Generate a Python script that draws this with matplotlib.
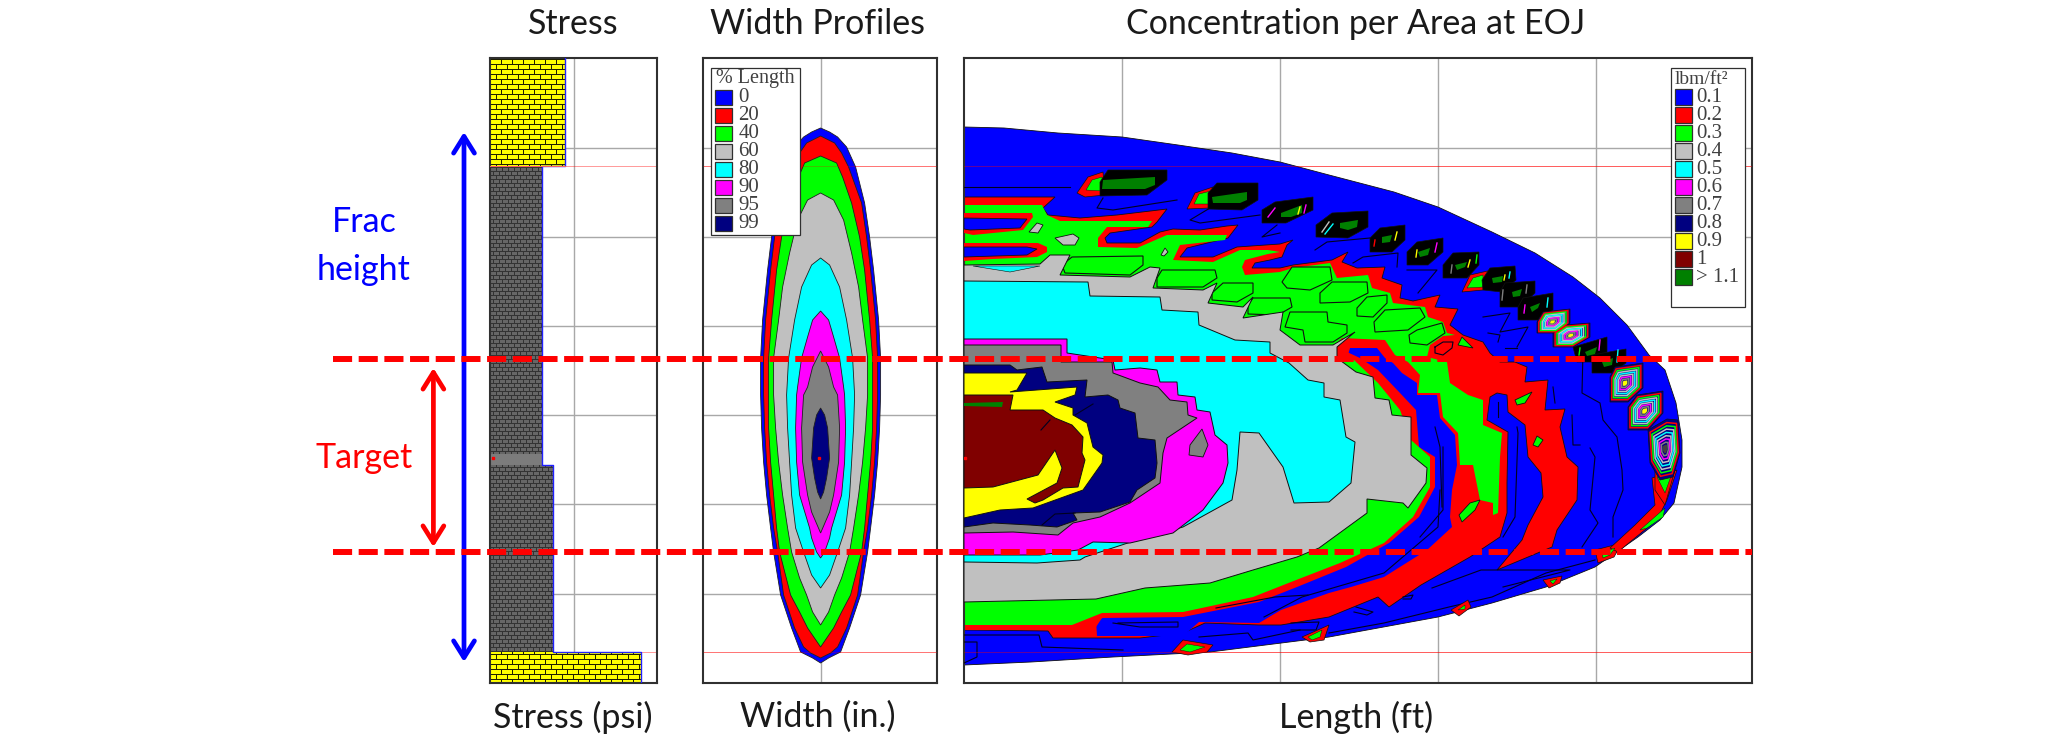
import numpy as np
import matplotlib
matplotlib.use("Agg")
import matplotlib.pyplot as plt
from matplotlib.patches import Polygon, Rectangle

BLUE, RED, GREEN = '#0000ff', '#ff0000', '#00ff00'
LGRAY, CYAN, MAGENTA = '#c0c0c0', '#00ffff', '#ff00ff'
GRAY, NAVY, YELLOW, MAROON, DGREEN = '#808080', '#000080', '#ffff00', '#800000', '#008000'

W, H = 2067, 739

# depth / length values below (no scale printed on the original)
depth_grid = [148, 237, 326, 415, 504, 594]
zone_lines = [166, 652]
target_top, target_bottom = 358.5, 552

# Stress panel
stress_layers = [  # stress, top, bottom, kind
    (565, 58, 166, 'y'),
    (542, 166, 454, 'g'),
    (542, 454, 465, 'p'),
    (552.5, 465, 652, 'g'),
    (641, 652, 683, 'y'),
]

# Width profile contours: depth, half width
width_pct = ['0', '20', '40', '60', '80', '90', '95', '99']
width_cols = [BLUE, RED, GREEN, LGRAY, CYAN, MAGENTA, GRAY, NAVY]
width_depth = [
    [128, 132, 137, 147, 167, 203, 237, 270, 320, 358, 395, 428, 462, 495, 528, 552, 595, 628, 652, 658, 663],
    [136, 143, 153, 167, 203, 237, 270, 320, 358, 395, 428, 462, 495, 528, 552, 595, 628, 647, 653, 658],
    [156, 163, 177, 203, 237, 270, 320, 358, 395, 428, 462, 495, 528, 552, 595, 612, 628, 647],
    [193, 200, 220, 253, 287, 320, 358, 395, 428, 462, 495, 528, 552, 578, 595, 612, 625],
    [258, 265, 287, 320, 358, 395, 428, 462, 495, 528, 552, 575, 588],
    [311, 320, 337, 358, 387, 395, 428, 462, 495, 528, 538, 552, 558],
    [351, 367, 387, 395, 428, 462, 495, 512, 533],
    [408, 415, 428, 458, 478, 492, 499],
]
width_half = [
    [0, 9, 17, 26, 35, 44, 49, 53, 58, 60, 60, 59, 57, 54, 50, 47, 40, 29, 20, 8, 0],
    [0, 14, 21, 28, 41, 46, 50, 55, 57, 57, 56, 54, 51, 47, 43, 37, 26, 17, 10, 0],
    [0, 16, 22, 31, 39, 44, 49, 52, 52, 52, 50, 47, 44, 41, 30, 21, 13, 0],
    [0, 13, 23, 31, 38, 42, 47, 47, 45, 42, 38, 33, 29, 21, 14, 8, 0],
    [0, 9, 19, 26, 32, 34, 33, 31, 29, 25, 17, 9, 0],
    [0, 8, 13, 19, 23, 24, 25, 24, 21, 11, 9, 4, 0],
    [0, 8, 13, 17, 19, 18, 13, 9, 0],
    [0, 4, 7, 9, 6, 3, 0],
]

# Concentration map contours (length, depth)
conc_outer = [(964, 127), (1004, 128), (1058, 133), (1122, 137), (1178, 145), (1232, 153), (1280, 162),
              (1329, 175), (1394, 192), (1438, 207), (1492, 232), (1535, 253), (1573, 277), (1600, 298),
              (1627, 325), (1649, 355), (1665, 370), (1676, 403), (1682, 440), (1682, 467), (1674, 503),
              (1660, 520), (1638, 537), (1595, 567), (1546, 587), (1492, 603), (1438, 617), (1329, 637),
              (1210, 652), (1113, 657), (1031, 662), (964, 665)]
conc_red = [(964, 197), (1055, 197), (1043, 208), (1048, 215), (1080, 218), (1117, 215), (1167, 209),
            (1157, 222), (1152, 227), (1110, 233), (1105, 238), (1107, 243), (1140, 243), (1160, 232),
            (1173, 229), (1200, 230), (1227, 226), (1238, 225), (1228, 238), (1187, 248), (1180, 257),
            (1213, 257), (1237, 247), (1280, 244), (1293, 240), (1287, 245), (1282, 257), (1270, 260),
            (1255, 263), (1252, 268), (1280, 268), (1293, 265), (1332, 260), (1348, 252), (1342, 262),
            (1357, 268), (1385, 267), (1382, 278), (1402, 285), (1400, 298), (1413, 301), (1440, 295),
            (1435, 307), (1458, 309), (1450, 325), (1463, 335), (1483, 342), (1490, 353), (1500, 362),
            (1515, 362), (1527, 367), (1525, 382), (1548, 380), (1545, 410), (1565, 409), (1560, 427),
            (1567, 457), (1578, 467), (1577, 500), (1557, 530), (1552, 547), (1497, 570), (1522, 540),
            (1528, 525), (1543, 497), (1541, 473), (1528, 457), (1525, 425), (1508, 412), (1507, 395),
            (1497, 393), (1490, 397), (1487, 420), (1508, 432), (1507, 483), (1507, 513), (1500, 537),
            (1470, 557), (1421, 585), (1389, 607), (1378, 597), (1329, 617), (1281, 625), (1259, 625),
            (1205, 623), (1183, 633), (1140, 638), (1053, 638), (1048, 631), (964, 630)]
conc_pocket = [(1350, 348), (1377, 348), (1385, 358), (1393, 363), (1402, 373), (1417, 383), (1417, 395),
               (1437, 395), (1440, 418), (1455, 435), (1457, 465), (1452, 490), (1450, 517), (1452, 527),
               (1427, 550), (1384, 577), (1351, 587), (1329, 593), (1281, 610), (1259, 623), (1199, 622),
               (1183, 636), (1097, 636), (1096, 620), (1200, 590), (1350, 500), (1380, 400), (1345, 365)]
conc_green = [(964, 205), (1042, 205), (1047, 215), (1060, 221), (1120, 221), (1152, 221), (1148, 227),
              (1107, 227), (1098, 238), (1098, 247), (1137, 248), (1167, 235), (1227, 235), (1225, 240),
              (1180, 245), (1173, 260), (1213, 262), (1240, 250), (1268, 250), (1280, 252), (1268, 254),
              (1245, 260), (1242, 267), (1245, 275), (1280, 272), (1293, 268), (1330, 263), (1337, 278),
              (1368, 275), (1372, 288), (1390, 293), (1393, 303), (1425, 307), (1428, 317), (1443, 322),
              (1447, 333), (1455, 335), (1443, 336), (1430, 345), (1427, 357), (1447, 362), (1450, 383),
              (1468, 395), (1483, 400), (1483, 425), (1502, 433), (1500, 457), (1498, 513), (1493, 515),
              (1493, 503), (1480, 500), (1473, 465), (1460, 465), (1458, 433), (1443, 417), (1440, 393),
              (1418, 393), (1420, 375), (1408, 362), (1395, 355), (1385, 340), (1342, 338), (1335, 345),
              (1337, 358), (964, 300)]
conc_red_band = [(1347, 352), (1360, 358), (1378, 370), (1400, 393), (1416, 410), (1419, 447), (1435, 457),
                 (1435, 487), (1419, 517), (1389, 543), (1346, 567), (1297, 587), (1259, 602), (1183, 617),
                 (1102, 618), (1094, 630), (964, 630), (964, 400)]
conc_green_band = [(1354, 360), (1378, 383), (1400, 410), (1411, 440), (1430, 457), (1430, 487), (1413, 517),
                   (1384, 543), (1340, 563), (1291, 582), (1253, 597), (1183, 612), (1102, 613), (1072, 625),
                   (964, 625), (964, 400)]
conc_04 = [(964, 265), (1040, 264), (1050, 255), (1070, 255), (1060, 275), (1130, 277), (1150, 267), (1160, 268),
           (1153, 288), (1203, 290), (1217, 283), (1208, 303), (1243, 307), (1253, 297), (1243, 318), (1283, 312),
           (1280, 330), (1300, 345), (1333, 345), (1355, 332), (1337, 347), (1337, 358), (1356, 372), (1373, 377),
           (1375, 398), (1389, 400), (1392, 415), (1411, 417), (1411, 455), (1427, 468), (1426, 483), (1408, 508),
           (1403, 503), (1367, 499), (1367, 513), (1319, 548), (1297, 557), (1253, 570), (1210, 583), (1145, 588),
           (1096, 599), (964, 602)]
conc_05 = [(964, 281), (1088, 282), (1090, 296), (1160, 297), (1162, 310), (1198, 312), (1199, 325), (1235, 340),
           (1270, 342), (1270, 353), (1289, 363), (1308, 380), (1324, 383), (1324, 397), (1340, 400), (1346, 437),
           (1355, 442), (1351, 483), (1329, 502), (1294, 503), (1283, 467), (1259, 433), (1240, 432), (1237, 470),
           (1232, 500), (1183, 527), (1137, 540), (1085, 557), (1080, 560), (1037, 563), (964, 562)]
conc_06 = [(964, 339), (1067, 339), (1067, 353), (1113, 360), (1115, 370), (1140, 368), (1157, 370), (1160, 382),
           (1177, 382), (1178, 395), (1195, 397), (1197, 410), (1210, 412), (1215, 435), (1227, 445), (1228, 463),
           (1223, 483), (1203, 510), (1173, 533), (1130, 543), (1093, 542), (1078, 550), (1040, 555), (964, 555)]
conc_07 = [(964, 345), (1061, 345), (1061, 362), (1112, 362), (1113, 373), (1140, 383), (1158, 387), (1170, 400),
           (1187, 402), (1188, 415), (1197, 418), (1167, 438), (1163, 453), (1160, 483), (1130, 503), (1100, 517),
           (1073, 523), (1058, 535), (1013, 532), (964, 533)]
conc_08 = [(964, 365), (1010, 365), (1017, 370), (1042, 367), (1047, 382), (1087, 380), (1085, 397), (1108, 395),
           (1118, 400), (1120, 408), (1135, 413), (1138, 438), (1155, 440), (1157, 463), (1155, 478), (1137, 490),
           (1130, 502), (1100, 512), (1073, 513), (1077, 520), (1057, 527), (1030, 525), (993, 523), (964, 527)]
conc_09 = [(964, 373), (1027, 373), (1017, 390), (1010, 392), (1077, 387), (1075, 395), (1055, 402), (1073, 408),
           (1073, 415), (1087, 423), (1093, 447), (1103, 455), (1102, 463), (1083, 490), (1033, 508), (1000, 510),
           (964, 518)]
conc_10 = [(964, 395), (1013, 395), (1010, 410), (1043, 410), (1055, 418), (1072, 425), (1083, 437), (1082, 453),
           (1085, 460), (1078, 487), (1063, 488), (1043, 500), (1035, 503), (1027, 499), (1057, 483), (1062, 468),
           (1055, 450), (1038, 475), (993, 487), (964, 488)]
conc_11 = [(964, 403), (1003, 402), (1002, 407), (964, 406)]

# pockets and islands painted over the main contours
pockets_red = [[(964, 213), (1032, 213), (1033, 217), (1023, 230), (973, 235), (964, 233)],
               [(964, 243), (1038, 243), (1047, 247), (1047, 252), (1037, 257), (993, 259), (964, 261)]]
pockets_blue = [[(964, 218), (1027, 219), (1020, 228), (970, 230), (964, 229)],
                [(964, 247), (1027, 247), (1037, 249), (1027, 255), (964, 257)]]
islands_gray = [[(1037, 223), (1043, 225), (1038, 233), (1029, 232)],
                [(1055, 238), (1073, 234), (1079, 238), (1075, 245), (1063, 245)],
                [(1165, 248), (1168, 252), (1164, 256), (1161, 255)],
                [(1202, 429), (1208, 445), (1203, 457), (1189, 455), (1190, 445)]]
islands_green = [[(1072, 257), (1143, 256), (1143, 265), (1130, 275), (1065, 273), (1062, 265)],
                 [(1162, 270), (1215, 270), (1217, 278), (1203, 287), (1157, 287), (1157, 278)],
                 [(1223, 283), (1253, 283), (1253, 293), (1237, 302), (1212, 300), (1212, 293)],
                 [(1253, 298), (1290, 298), (1292, 307), (1278, 315), (1248, 314), (1248, 305)],
                 [(1292, 267), (1330, 267), (1332, 280), (1310, 290), (1287, 288), (1282, 282)],
                 [(1332, 282), (1367, 282), (1368, 293), (1350, 302), (1320, 303), (1320, 293)],
                 [(1367, 297), (1387, 295), (1387, 303), (1373, 317), (1357, 316), (1357, 308)],
                 [(1385, 310), (1420, 308), (1425, 317), (1408, 330), (1375, 332), (1374, 322)],
                 [(1417, 330), (1442, 323), (1445, 333), (1427, 345), (1410, 343), (1409, 335)],
                 [(1290, 312), (1327, 312), (1328, 322), (1347, 325), (1347, 333), (1333, 342), (1305, 342),
                  (1303, 330), (1285, 327)]]
spots_green = [[(1462, 337), (1473, 348), (1458, 345)],
               [(1515, 400), (1532, 392), (1525, 403), (1517, 405)],
               [(1533, 445), (1537, 436), (1543, 440), (1538, 447)],
               [(1459, 515), (1470, 503), (1480, 500), (1475, 510), (1462, 522)]]
sliver_cyan = [(973, 266), (1040, 266), (1010, 272)]

# black proppant cells along the tip: outline, core
cells = [
    ([(1108, 170), (1167, 170), (1167, 180), (1147, 195), (1100, 196), (1100, 182)],
     [(1103, 180), (1155, 177), (1155, 185), (1145, 189), (1102, 189)]),
    ([(1217, 183), (1258, 183), (1258, 200), (1242, 210), (1208, 209), (1208, 193)],
     [(1212, 197), (1247, 192), (1247, 200), (1240, 203), (1213, 203)]),
    ([(1275, 202), (1313, 197), (1313, 210), (1286, 223), (1262, 223), (1262, 210)],
     [(1281, 213), (1302, 205), (1302, 213), (1291, 217), (1281, 217)]),
    ([(1332, 213), (1368, 211), (1368, 227), (1348, 238), (1316, 237), (1316, 225)],
     [(1340, 223), (1358, 220), (1357, 227), (1348, 230), (1340, 228)]),
    ([(1380, 228), (1405, 225), (1405, 240), (1392, 252), (1370, 252), (1370, 238)],
     [(1382, 237), (1392, 235), (1390, 242), (1382, 243)]),
    ([(1417, 242), (1443, 238), (1443, 252), (1428, 265), (1407, 265), (1407, 252)],
     [(1418, 252), (1430, 248), (1428, 255), (1420, 257)]),
    ([(1453, 253), (1479, 252), (1479, 265), (1467, 278), (1443, 278), (1443, 265)],
     [(1455, 265), (1467, 262), (1465, 267), (1457, 270)]),
    ([(1490, 268), (1515, 266), (1516, 280), (1502, 292), (1483, 290), (1482, 280)],
     [(1492, 278), (1503, 276), (1502, 282), (1493, 283)]),
    ([(1505, 283), (1535, 281), (1535, 293), (1520, 307), (1500, 307), (1500, 292)],
     [(1512, 292), (1522, 289), (1520, 296), (1513, 297)]),
    ([(1523, 298), (1553, 293), (1553, 310), (1538, 320), (1518, 320), (1518, 307)],
     [(1530, 307), (1540, 303), (1538, 308), (1532, 312)]),
    ([(1573, 347), (1607, 337), (1607, 353), (1595, 362), (1577, 362)],
     [(1585, 352), (1597, 347), (1595, 354), (1587, 356)]),
    ([(1592, 355), (1626, 349), (1626, 363), (1612, 373), (1592, 373)],
     [(1602, 362), (1613, 358), (1612, 365), (1604, 367)]),
]
# short coloured contour pieces inside the black cells
cell_ticks = [
    (YELLOW, [(1397, 232), (1395, 240)]), (RED, [(1375, 240), (1374, 246)]),
    (MAGENTA, [(1437, 243), (1435, 252)]), (YELLOW, [(1417, 250), (1416, 257)]),
    (YELLOW, [(1470, 260), (1468, 267)]), (GRAY, [(1452, 265), (1451, 273)]), (GREEN, [(1477, 255), (1476, 263)]),
    (CYAN, [(1510, 272), (1509, 278)]), (YELLOW, [(1505, 275), (1504, 280)]),
    (GRAY, [(1503, 290), (1502, 300)]), (GRAY, [(1527, 285), (1526, 293)]),
    (MAGENTA, [(1525, 305), (1524, 313)]), (CYAN, [(1548, 298), (1547, 307)]),
    (MAGENTA, [(1600, 340), (1599, 350)]), (GREEN, [(1580, 348), (1579, 355)]),
    (CYAN, [(1618, 350), (1617, 362)]), (YELLOW, [(1300, 207), (1298, 214)]),
    (MAGENTA, [(1306, 205), (1304, 213)]), (LGRAY, [(1322, 232), (1329, 222)]),
    (MAGENTA, [(1268, 217), (1275, 208)]), (CYAN, [(1325, 234), (1333, 224)]),
]
# ringed cells: outline, centre colour
ring_cells = [
    [(1543, 312), (1570, 309), (1570, 323), (1557, 333), (1537, 333), (1537, 322)],
    [(1565, 325), (1590, 323), (1590, 337), (1573, 347), (1553, 347), (1553, 333)],
    [(1615, 367), (1643, 363), (1643, 388), (1628, 402), (1610, 402), (1610, 377)],
    [(1637, 395), (1663, 391), (1663, 413), (1648, 430), (1628, 430), (1628, 407)],
    [(1648, 430), (1667, 419), (1678, 420), (1680, 453), (1673, 477), (1660, 480), (1650, 463)],
]
ring_centre = [YELLOW, YELLOW, YELLOW, YELLOW, '#404040']
ring_cols = [RED, GREEN, LGRAY, CYAN, LGRAY, MAGENTA, GRAY]

# small red/green blobs where the contour meets the edge: outline, core
tips = [
    ([(1077, 193), (1088, 177), (1103, 172), (1105, 195), (1085, 197)], [(1086, 190), (1092, 180), (1102, 177), (1103, 191)]),
    ([(1187, 209), (1195, 193), (1213, 187), (1210, 208)], [(1194, 204), (1199, 194), (1211, 191), (1209, 204)]),
    ([(1462, 292), (1470, 275), (1492, 270), (1483, 290)], [(1467, 288), (1473, 278), (1483, 275), (1483, 287)]),
    ([(1172, 652), (1183, 640), (1213, 645), (1207, 652), (1188, 655)], [(1180, 650), (1187, 644), (1205, 647), (1190, 652)]),
    ([(1302, 637), (1329, 625), (1324, 640), (1310, 642)], [(1308, 637), (1322, 630), (1320, 637), (1312, 640)]),
    ([(1451, 610), (1468, 600), (1471, 607), (1459, 616)], [(1458, 610), (1465, 605), (1465, 609)]),
    ([(1543, 580), (1562, 576), (1560, 583), (1549, 588)], [(1550, 581), (1557, 579), (1553, 584)]),
    ([(1595, 550), (1622, 543), (1614, 557), (1598, 563)], [(1602, 553), (1615, 548), (1610, 555), (1603, 558)]),
    ([(1652, 478), (1677, 470), (1667, 500), (1657, 520), (1630, 542), (1618, 552), (1610, 548), (1635, 525), (1655, 505)],
     [(1640, 530), (1665, 508), (1663, 517), (1647, 528)]),
    ([(1655, 470), (1675, 470), (1665, 505), (1655, 490)], [(1657, 477), (1671, 476), (1665, 493)]),
]
# black contour lines inside the low-concentration zone
conc_lines = [
    [(1583, 350), (1582, 393), (1600, 403), (1603, 420), (1617, 437), (1622, 470), (1623, 490), (1613, 517), (1613, 537)],
    [(1590, 448), (1595, 457), (1590, 510), (1598, 523), (1582, 547)],
    [(1553, 387), (1555, 403)],
    [(1572, 415), (1573, 445), (1580, 445)],
    [(1517, 427), (1518, 433), (1515, 517), (1503, 537)],
    [(1498, 402), (1498, 417)],
    [(1443, 447), (1443, 510), (1420, 537)],
    [(1435, 427), (1440, 447), (1442, 507)],
    [(1315, 250), (1327, 242), (1370, 238)],
    [(1353, 263), (1363, 257), (1398, 253), (1397, 267)],
    [(1418, 293), (1437, 270), (1407, 270)],
    [(1483, 317), (1510, 313), (1500, 332), (1528, 327), (1517, 347)],
    [(1488, 333), (1500, 335), (1498, 342)],
    [(1505, 348), (1517, 348)],
    [(964, 187), (1070, 187)],
    [(1103, 198), (1097, 208), (1113, 210), (1177, 200)],
    [(1210, 208), (1190, 220), (1200, 223), (1260, 215)],
    [(1277, 225), (1262, 237), (1280, 233)],
    [(1113, 623), (1140, 627), (1178, 627), (1178, 622), (1118, 623)],
    [(964, 635), (1039, 635), (1042, 647), (1123, 650)],
    [(964, 642), (977, 642), (977, 657), (964, 663)],
    [(1199, 637), (1248, 633), (1253, 640), (1300, 630)],
    [(1329, 633), (1384, 623), (1449, 607), (1492, 597), (1546, 573), (1595, 560)],
    [(1432, 588), (1481, 570), (1570, 570), (1503, 587)],
    [(1356, 607), (1373, 612), (1367, 615), (1354, 612)],
    [(1403, 597), (1413, 595), (1411, 599), (1403, 599)],
    [(1291, 623), (1319, 622), (1316, 630), (1291, 630)],
    [(1264, 617), (1302, 597), (1384, 573), (1438, 527), (1440, 490)],
    [(1216, 608), (1275, 597), (1308, 595)],
    [(1435, 347), (1443, 342), (1453, 342), (1452, 348), (1443, 355), (1435, 353), (1435, 347)],
    [(1041, 430), (1050, 420)],
    [(1075, 415), (1093, 404)],
    [(1042, 525), (1055, 514), (1075, 513)],
]

conc_levels = ['0.1', '0.2', '0.3', '0.4', '0.5', '0.6', '0.7', '0.8', '0.9', '1', '> 1.1']
conc_cols = [BLUE, RED, GREEN, LGRAY, CYAN, MAGENTA, GRAY, NAVY, YELLOW, MAROON, DGREEN]

plt.rcParams['font.family'] = 'Lato'
fig = plt.figure(figsize=(W / 100, H / 100), dpi=100)


def panel(x0, x1, xticks):
    ax = fig.add_axes([x0 / W, 1 - 683 / H, (x1 - x0) / W, (683 - 58) / H])
    ax.set_xlim(x0, x1)
    ax.set_ylim(683, 58)
    ax.set_xticks(xticks)
    ax.set_yticks(depth_grid)
    ax.tick_params(length=0, labelbottom=False, labelleft=False)
    ax.grid(True, color='#a8a8a8', lw=1.0)
    ax.set_axisbelow(True)
    for s in ax.spines.values():
        s.set_linewidth(1.5)
        s.set_color('#303030')
    ax.hlines(zone_lines, x0, x1, color='#ff0000', lw=0.7, alpha=0.4, zorder=1)
    return ax


def fill(ax, pts, col, z, lw=0.6):
    ax.add_patch(Polygon(pts, closed=True, fc=col, ec='#101010', lw=lw, zorder=z))


def bricks(ax, x0, x1, y0, y1, brick, mortar, rh, cw):
    # brick pattern as a small raster, one cell per pixel
    ny, nx = int(round(y1 - y0)), int(round(x1 - x0))
    rgb = np.zeros((ny, nx, 3))
    rgb[:] = matplotlib.colors.to_rgb(brick)
    m = matplotlib.colors.to_rgb(mortar)
    for j in range(ny):
        row = (j + int(y0)) // rh
        if (j + int(y0)) % rh == rh - 1:
            rgb[j, :] = m
        else:
            off = 0 if row % 2 == 0 else cw // 2
            for i in range(nx):
                if (i + off) % cw == 0:
                    rgb[j, i] = m
    ax.imshow(rgb, extent=(x0, x1, y1, y0), aspect='auto', interpolation='nearest', zorder=2)


# Stress
ax1 = panel(490, 657, [574.4])
left = 490
for stress, top, bot, kind in stress_layers:
    if kind == 'y':
        bricks(ax1, left, stress, top, bot, YELLOW, '#202000', 5, 11)
    elif kind == 'g':
        bricks(ax1, left, stress, top, bot, '#666666', '#333333', 4, 6)
    else:
        ax1.add_patch(Rectangle((left, top), stress - left, bot - top, fc='#7c7c7c', zorder=2))
steps_x = [stress_layers[0][0], stress_layers[0][0], stress_layers[1][0], stress_layers[2][0],
           stress_layers[3][0], stress_layers[3][0], stress_layers[4][0], stress_layers[4][0]]
steps_y = [58, 166, 166, 465, 465, 652, 652, 683]
ax1.plot(steps_x, steps_y, color='#2020ff', lw=1.0, zorder=3)
ax1.plot([490, 565], [166, 166], color='#ff6060', lw=0.7, zorder=3)
ax1.plot([493], [458], 's', color=RED, ms=1.8, zorder=4)
ax1.set_xlim(490, 657)
ax1.set_ylim(683, 58)

# Width profiles
ax2 = panel(703, 937, [820.6])
cx = 820.6
for i in range(len(width_cols)):
    d = np.array(width_depth[i])
    h = np.array(width_half[i])
    xs = np.concatenate([cx + h, (cx - h)[::-1]])
    ys = np.concatenate([d, d[::-1]])
    ax2.fill(xs, ys, fc=width_cols[i], ec='#202020', lw=0.6, zorder=2 + i * 0.1)
ax2.plot([819], [458], 's', color=RED, ms=1.6, zorder=4)
ax2.hlines(zone_lines, 703, 937, color='#ff0000', lw=0.7, alpha=0.25, zorder=3)
ax2.add_patch(Rectangle((711, 67.5), 88.6, 167, fc='white', ec='#303030', lw=0.9, zorder=5))
ax2.text(716, 79, '% Length', family='Liberation Serif', fontsize=14.5, color='#404040', va='center', zorder=6)
for i, (lab, col) in enumerate(zip(width_pct, width_cols)):
    ax2.add_patch(Rectangle((714.6, 89.6 + 18 * i), 17.4, 15, fc=col, ec='#303030', lw=0.9, zorder=6))
    ax2.text(738.5, 97.5 + 18 * i, lab, family='Liberation Serif', fontsize=15, color='#404040',
             va='center', zorder=6)

# Concentration map
ax3 = panel(964, 1752, [1122, 1280, 1438, 1596])
fill(ax3, conc_outer, BLUE, 2)
fill(ax3, conc_red, RED, 2.1)
fill(ax3, conc_pocket, BLUE, 2.2, lw=0)
fill(ax3, conc_green, GREEN, 2.3, lw=0)
fill(ax3, conc_red_band, RED, 2.4, lw=0)
fill(ax3, conc_green_band, GREEN, 2.5, lw=0)
for p in pockets_red:
    fill(ax3, p, RED, 2.6, lw=0)
for p in pockets_blue:
    fill(ax3, p, BLUE, 2.7)
for p in spots_green:
    fill(ax3, p, GREEN, 2.7)
for p in islands_green:
    fill(ax3, p, GREEN, 2.7, lw=0.8)
for p in islands_gray[:3]:
    fill(ax3, p, LGRAY, 2.7)
for n, (pts, col) in enumerate([(conc_04, LGRAY), (conc_05, CYAN), (conc_06, MAGENTA), (conc_07, GRAY),
                                (conc_08, NAVY), (conc_09, YELLOW), (conc_10, MAROON), (conc_11, DGREEN)]):
    fill(ax3, pts, col, 3 + n * 0.1, lw=0.7 if col != DGREEN else 0)
fill(ax3, islands_gray[3], GRAY, 3.25)
fill(ax3, sliver_cyan, CYAN, 3.05, lw=0.4)
for line in conc_lines:
    xs, ys = zip(*line)
    ax3.plot(xs, ys, color='#000020', lw=0.8, zorder=3.9)
for outline, core in tips:
    fill(ax3, outline, RED, 4, lw=0.5)
    fill(ax3, core, GREEN, 4.1, lw=0.3)
for outline, core in cells:
    fill(ax3, outline, 'black', 4.3, lw=0.5)
    fill(ax3, core, DGREEN, 4.4, lw=0)
for col, seg in cell_ticks:
    xs, ys = zip(*seg)
    ax3.plot(xs, ys, color=col, lw=1.0, zorder=4.5)
for outline, centre in zip(ring_cells, ring_centre):
    pts = np.array(outline, dtype=float)
    c = pts.mean(axis=0)
    fill(ax3, pts, NAVY, 4.3, lw=0.5)
    for k, col in enumerate(ring_cols):
        ring = c + (pts - c) * (0.88 - k * 0.11)
        ax3.add_patch(Polygon(ring, closed=True, fc='none', ec=col, lw=1.1, zorder=4.4))
    ax3.add_patch(Polygon(c + (pts - c) * 0.14, closed=True, fc=centre, ec='none', zorder=4.5))
ax3.plot([965], [458], 's', color=RED, ms=1.6, zorder=4)
ax3.hlines(zone_lines, 964, 1752, color='#ff0000', lw=0.7, alpha=0.4, zorder=4.6)

ax3.add_patch(Rectangle((1671, 67.7), 73.6, 239, fc='white', ec='#303030', lw=0.9, zorder=5))
ax3.text(1675, 79, 'lbm/ft²', family='Liberation Serif', fontsize=14, color='#404040', va='center', zorder=6)
for i, (lab, col) in enumerate(zip(conc_levels, conc_cols)):
    ax3.add_patch(Rectangle((1674.7, 89.3 + 18 * i), 16.8, 15.5, fc=col, ec='#303030', lw=0.9, zorder=6))
    ax3.text(1696, 97 + 18 * i, lab, family='Liberation Serif', fontsize=15, color='#404040',
             va='center', zorder=6)

# overlay for dashed lines, arrows and the slide text
ov = fig.add_axes([0, 0, 1, 1], facecolor='none')
ov.set_xlim(0, W)
ov.set_ylim(H, 0)
ov.axis('off')
for y in (target_top, target_bottom):
    ov.plot([333, 1752], [y, y], color=RED, lw=4.3, dashes=(3.2, 1.1), dash_capstyle='butt', zorder=5)
ov.annotate('', xy=(464, 132), xytext=(464, 662),
            arrowprops=dict(arrowstyle='<->,head_length=1.2,head_width=0.75', color=BLUE, lw=3.4, shrinkA=0, shrinkB=0))
ov.annotate('', xy=(433.4, 368), xytext=(433.4, 547),
            arrowprops=dict(arrowstyle='<->,head_length=1.2,head_width=0.75', color=RED, lw=3.4, shrinkA=0, shrinkB=0))

title_fs = 24.5
ov.text(573, 24, 'Stress', fontsize=title_fs, ha='center', va='center', color='#1a1a1a')
ov.text(818, 24, 'Width Profiles', fontsize=title_fs, ha='center', va='center', color='#1a1a1a')
ov.text(1356, 24, 'Concentration per Area at EOJ', fontsize=title_fs, ha='center', va='center', color='#1a1a1a')
ov.text(573, 717, 'Stress (psi)', fontsize=title_fs, ha='center', va='center', color='#1a1a1a')
ov.text(818, 717, 'Width (in.)', fontsize=title_fs, ha='center', va='center', color='#1a1a1a')
ov.text(1356, 717, 'Length (ft)', fontsize=title_fs, ha='center', va='center', color='#1a1a1a')
ov.text(364, 222.5, 'Frac', fontsize=title_fs, ha='center', va='center', color=BLUE)
ov.text(364, 270, 'height', fontsize=title_fs, ha='center', va='center', color=BLUE)
ov.text(364, 458, 'Target', fontsize=title_fs, ha='center', va='center', color=RED)

fig.savefig('out.png', dpi=100)
